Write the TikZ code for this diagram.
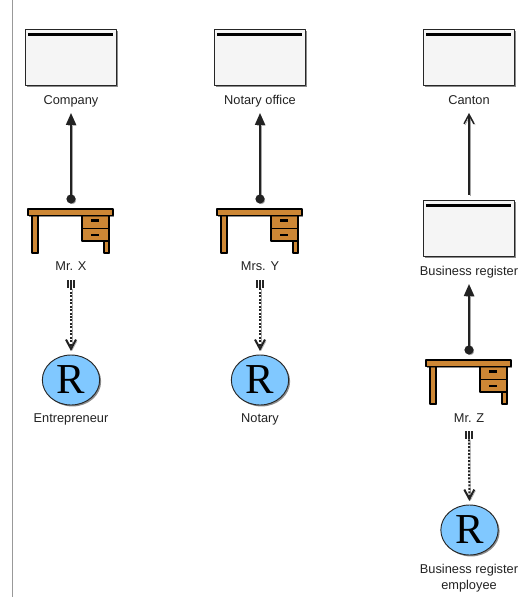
\documentclass[tikz,border=0pt]{standalone}
\usepackage{fontspec}
\setmainfont{Liberation Sans}
\newfontfamily\rolefont{Liberation Serif}
\usetikzlibrary{arrows.meta,shapes.geometric,shadows}
\definecolor{deskwood}{HTML}{CD8735}
\definecolor{rolesky}{HTML}{80C8FF}
\definecolor{unitgrey}{HTML}{F5F5F5}
\definecolor{inkgrey}{HTML}{222222}
\tikzset{
	softshadow/.style={drop shadow={shadow xshift=1.1pt,shadow yshift=-1.1pt,fill=black,opacity=0.45}},
	linkshadow/.style={preaction={draw=black!35,transform canvas={shift={(0.9pt,-0.9pt)}}}},
	unitbox/.style={draw=black!85,line width=0.8pt,fill=unitgrey,minimum width=68.5pt,minimum height=42.5pt,inner sep=0pt,softshadow,
		path picture={\draw[black,line width=2.3pt] ([xshift=2.2pt,yshift=-3.9pt]path picture bounding box.north west)--([xshift=-3pt,yshift=-3.9pt]path picture bounding box.north east);}},
	rolenode/.style={ellipse,draw=black!85,line width=0.7pt,fill=rolesky,minimum width=43pt,minimum height=37.5pt,inner sep=0pt,outer sep=3pt,softshadow,font=\rolefont\fontsize{32}{32}\selectfont},
	lbl/.style={text=inkgrey,inner sep=0pt,outer sep=4.5pt,text height=7pt,text depth=2pt},
	tickbars/.style={minimum width=8pt,minimum height=6pt,inner sep=0pt,
		path picture={\foreach \t in {-2.2pt,0pt,2.2pt} \draw[black!85,line width=1.1pt] ([xshift=\t]path picture bounding box.north)--([xshift=\t]path picture bounding box.south);}},
	reportline/.style={inkgrey,line width=1.3pt,linkshadow,{Circle[length=6.8pt]}-{Triangle[length=9pt,width=7.5pt]}},
	partline/.style={inkgrey,line width=1.1pt,linkshadow,-{Straight Barb[length=7pt,width=7.5pt]}},
	roleline/.style={inkgrey,line width=1.5pt,dash pattern=on 1.5pt off 1.1pt,linkshadow,-{Straight Barb[length=7pt,width=7.5pt]}},
	deskpart/.style={draw=black,line width=0.8pt,fill=deskwood,softshadow},
	pics/desk/.style={code={
		\coordinate (-top) at (0,-5.5);
		\draw[deskpart] (-39,6)rectangle(-33,44);
		\draw[deskpart] (33,32)rectangle(38,44);
		\draw[deskpart] (11,6)rectangle(38,19.5);
		\draw[deskpart] (11,19.5)rectangle(38,32);
		\draw[deskpart] (-43,0)rectangle(42,6.5);
		\draw[black,line width=1.6pt] (20,11.5)--(28,11.5);
		\draw[black,line width=1.6pt] (20,26)--(28,26);
	}},
}
\begin{document}
\begin{tikzpicture}[x=0.75pt,y=-0.75pt,font=\fontsize{9.6}{12}\selectfont,line join=round]
	\useasboundingbox (0,0) rectangle (518,599);
	\coordinate (railtop) at (12.5,0);
	\coordinate (railend) at (12.5,597);
	\draw[black!40,line width=0.8pt] (railtop)--(railend);
	% first column
	\node[unitbox] (company) at (71,57.5) {};
	\node[lbl] (lblcompany) at (71,101) {Company};
	\pic (deskx) at (71,209) {desk};
	\node[lbl] (lblx) at (71,267) {Mr. X};
	\node[tickbars] (ticksx) at (71,284) {};
	\node[rolenode] (entrepreneur) at (71,380) {R};
	\node[lbl] (lblentrepreneur) at (71,419) {Entrepreneur};
	\draw[reportline] (deskx-top)--(lblcompany);
	\draw[roleline] (ticksx)--(entrepreneur);
	% second column
	\node[unitbox] (notaryoffice) at (260,57.5) {};
	\node[lbl] (lblnotaryoffice) at (260,101) {Notary office};
	\pic (desky) at (260,209) {desk};
	\node[lbl] (lbly) at (260,267) {Mrs. Y};
	\node[tickbars] (ticksy) at (260,284) {};
	\node[rolenode] (notary) at (260,380) {R};
	\node[lbl] (lblnotary) at (260,419) {Notary};
	\draw[reportline] (desky-top)--(lblnotaryoffice);
	\draw[roleline] (ticksy)--(notary);
	% third column
	\node[unitbox] (canton) at (469,57.5) {};
	\node[lbl] (lblcanton) at (469,101) {Canton};
	\node[unitbox] (register) at (469,228.5) {};
	\node[lbl] (lblregister) at (469,272) {Business register};
	\pic (deskz) at (469,360) {desk};
	\node[lbl] (lblz) at (469,419) {Mr. Z};
	\node[tickbars] (ticksz) at (469,435) {};
	\node[rolenode] (employee) at (469.5,530) {R};
	\node[lbl,align=center,text height=,text depth=,font=\fontsize{9.6}{12.4}\selectfont] (lblemployee) at (469,578) {Business register\\employee};
	\draw[partline,shorten <=3.5pt] (register)--(lblcanton);
	\draw[reportline] (deskz-top)--(lblregister);
	\draw[roleline] (ticksz)--(employee);
\end{tikzpicture}
\end{document}
